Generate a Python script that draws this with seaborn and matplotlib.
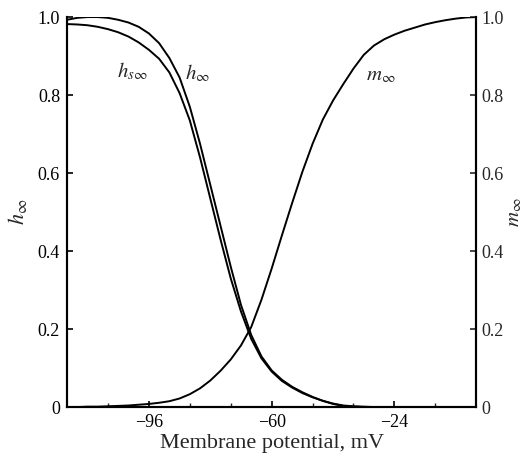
import numpy as np
import pandas as pd
import matplotlib
matplotlib.use("Agg")
import matplotlib.pyplot as plt
import seaborn as sns

# Membrane potential (mV)
voltage = [-120, -117, -114, -111, -108, -105, -102, -99, -96, -93, -90, -87,
           -84, -81, -78, -75, -72, -69, -66, -63, -60, -57, -54, -51, -48,
           -45, -42, -39, -36, -33, -30, -27, -24, -21, -18, -15, -12, -9,
           -6, -3, 0]

h_inf = [0.993, 0.998, 1.0, 1.0, 0.998, 0.993, 0.986, 0.975, 0.958, 0.933,
         0.895, 0.845, 0.77, 0.675, 0.57, 0.465, 0.36, 0.262, 0.185, 0.13,
         0.094, 0.07, 0.052, 0.038, 0.026, 0.016, 0.008, 0.003, 0.001, 0.0,
         0.0, 0.0, 0.0, 0.0, 0.0, 0.0, 0.0, 0.0, 0.0, 0.0, 0.0]

hs_inf = [0.982, 0.981, 0.979, 0.975, 0.969, 0.961, 0.95, 0.935, 0.916, 0.893,
          0.858, 0.805, 0.735, 0.64, 0.535, 0.43, 0.33, 0.245, 0.175, 0.125,
          0.091, 0.067, 0.05, 0.036, 0.025, 0.016, 0.009, 0.004, 0.002, 0.001,
          0.0, 0.0, 0.0, 0.0, 0.0, 0.0, 0.0, 0.0, 0.0, 0.0, 0.0]

m_inf = [0.0, 0.0, 0.001, 0.001, 0.002, 0.003, 0.004, 0.006, 0.008, 0.011,
         0.015, 0.022, 0.033, 0.048, 0.068, 0.093, 0.122, 0.158, 0.205, 0.275,
         0.355, 0.44, 0.523, 0.603, 0.675, 0.737, 0.786, 0.828, 0.868, 0.903,
         0.927, 0.943, 0.955, 0.965, 0.973, 0.981, 0.987, 0.992, 0.996,
         0.999, 1.0]

x_major = [-96, -60, -24]
x_major_labels = ["\u221296", "\u221260", "\u221224"]
x_minor = [-108, -84, -72, -48, -36, -12]
y_ticks = [0, 0.2, 0.4, 0.6, 0.8, 1.0]
y_labels = ["0", "0.2", "0.4", "0.6", "0.8", "1.0"]

sns.set_style("ticks")
plt.rcParams["font.family"] = ["Liberation Serif", "DejaVu Serif"]
plt.rcParams["mathtext.fontset"] = "stix"

df = pd.DataFrame({"V": voltage, "h": h_inf, "hs": hs_inf, "m": m_inf})

fig = plt.figure(figsize=(5.28, 4.61), dpi=100)
ax = fig.add_axes([0.127, 0.117, 0.775, 0.846])
ax2 = ax.twinx()

lw = 1.4
sns.lineplot(data=df, x="V", y="h", ax=ax, color="black", linewidth=lw)
sns.lineplot(data=df, x="V", y="hs", ax=ax, color="black", linewidth=lw)
sns.lineplot(data=df, x="V", y="m", ax=ax2, color="black", linewidth=lw)

for a in (ax, ax2):
    a.set_xlim(-120, 0)
    a.set_ylim(0, 1.0)
    a.spines["top"].set_visible(False)
    for s in ("left", "right", "bottom"):
        a.spines[s].set_linewidth(1.5)
        a.spines[s].set_color("black")

ax.set_xticks(x_major)
ax.set_xticklabels(x_major_labels)
ax.set_xticks(x_minor, minor=True)
ax.set_yticks(y_ticks)
ax.set_yticklabels(y_labels)
ax2.set_yticks(y_ticks)
ax2.set_yticklabels(y_labels)

ax.tick_params(axis="both", which="major", direction="in", length=4, width=1.2,
               labelsize=13, pad=5, colors="black")
ax.tick_params(axis="x", which="minor", direction="in", length=3, width=1.0)
ax2.tick_params(axis="y", direction="in", length=4, width=1.2, labelsize=13, pad=4)

ax.set_xlabel("Membrane potential, mV", fontsize=16, labelpad=2)
ax.set_ylabel(r"$h_\infty$", fontsize=16, labelpad=6)
ax2.set_ylabel(r"$m_\infty$", fontsize=15, rotation=90, labelpad=1)

ax.text(-105.3, 0.86, r"$h_{s\infty}$", fontsize=15, va="center", ha="left")
ax.text(-85.3, 0.855, r"$h_\infty$", fontsize=15, va="center", ha="left")
ax.text(-32.4, 0.85, r"$m_\infty$", fontsize=15, va="center", ha="left")

fig.savefig("out.png", dpi=100, facecolor="white")
